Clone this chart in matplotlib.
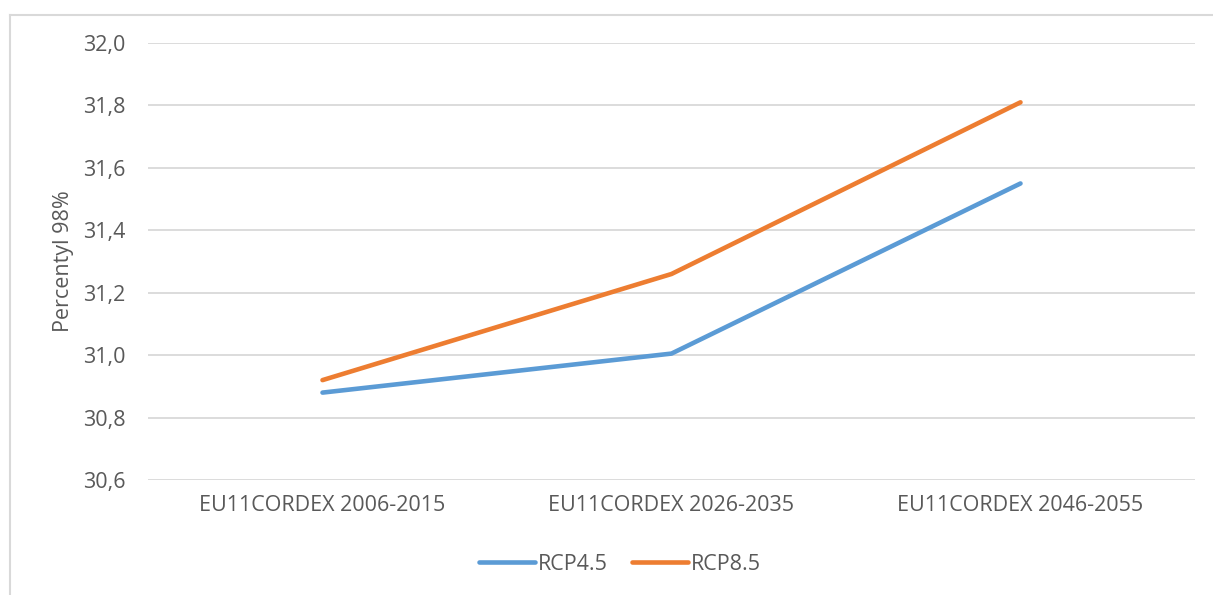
import matplotlib.pyplot as plt
from matplotlib.lines import Line2D

categories = ['EU11CORDEX 2006-2015', 'EU11CORDEX 2026-2035', 'EU11CORDEX 2046-2055']
rcp45 = [30.88, 31.005, 31.55]
rcp85 = [30.92, 31.26, 31.81]
y_ticks = [30.6, 30.8, 31.0, 31.2, 31.4, 31.6, 31.8, 32.0]

text_color = '#595959'
plt.rcParams['font.family'] = ['Open Sans', 'DejaVu Sans']

fig = plt.figure(figsize=(12.13, 5.95), dpi=100)
ax = fig.add_axes([148 / 1213, 1 - 480 / 595, (1195 - 148) / 1213, (480 - 43) / 595])

x = range(len(categories))
ax.plot(x, rcp45, color='#5B9BD5', lw=3.3, solid_capstyle='round', label='RCP4.5', zorder=3)
ax.plot(x, rcp85, color='#ED7D31', lw=3.3, solid_capstyle='round', label='RCP8.5', zorder=3)

ax.set_xlim(-0.5, len(categories) - 0.5)
ax.set_ylim(30.6, 32.0)
ax.set_yticks(y_ticks)
ax.set_yticklabels([f'{v:.1f}'.replace('.', ',') for v in y_ticks])
ax.set_xticks(list(x))
ax.set_xticklabels(categories)
ax.tick_params(axis='both', length=0, labelsize=15.5, colors=text_color)
ax.tick_params(axis='y', pad=16)
ax.tick_params(axis='x', pad=11)
ax.grid(axis='y', color='#D9D9D9', lw=1.3)
ax.set_axisbelow(True)
for s in ax.spines.values():
    s.set_visible(False)
ax.set_ylabel('Percentyl 98%', fontsize=15.5, color=text_color)
ax.yaxis.set_label_coords((74 - 148) / 1047, 0.5)

handles = [Line2D([], [], color='#5B9BD5', lw=3.3, solid_capstyle='round'),
           Line2D([], [], color='#ED7D31', lw=3.3, solid_capstyle='round')]
fig.legend(handles, ['RCP4.5', 'RCP8.5'], loc='center', bbox_to_anchor=(620 / 1213, 1 - 564 / 595),
           ncol=2, frameon=False, fontsize=15.5, labelcolor=text_color,
           handlelength=2.6, handletextpad=0.15, columnspacing=1.1)

# chart border
fig.add_artist(Line2D([10 / 1213, 10 / 1213], [0, 1 - 15 / 595], color='#D9D9D9', lw=1.5))
fig.add_artist(Line2D([10 / 1213, 1], [1 - 15 / 595, 1 - 15 / 595], color='#D9D9D9', lw=1.5))

fig.savefig('out.png', dpi=100)
